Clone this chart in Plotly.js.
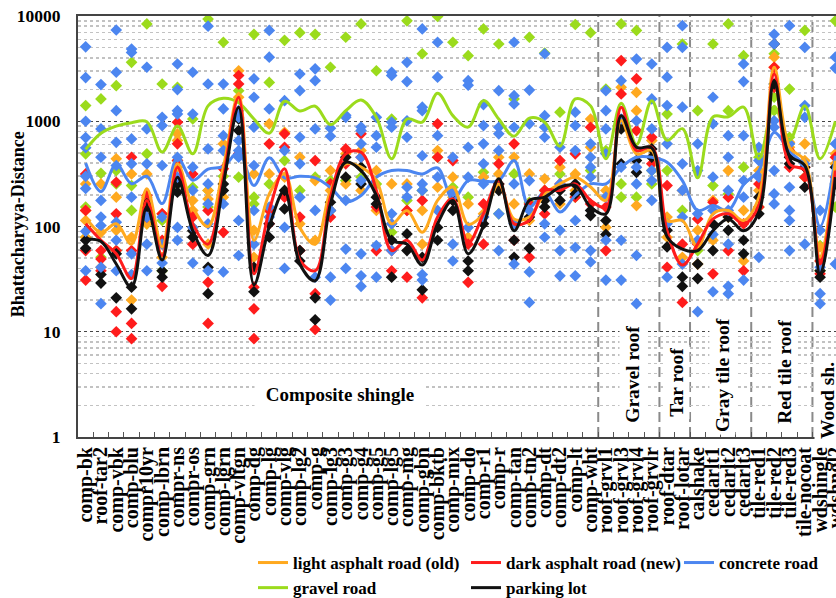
<!DOCTYPE html>
<html><head><meta charset="utf-8">
<script src="https://cdn.plot.ly/plotly-3.0.1.min.js"></script>
<style>html,body{margin:0;padding:0;background:#fff}#chart{width:836px;height:598px}</style>
</head><body><div id="chart"></div>
<script>
const categories = ["comp-bk","roof-tar2","comp-vbk","comp-blu","compr10yr","comp-lbrn","compr-ns","compr-os","comp-grn","comp-lgrn","comp-vltgn","comp-dg","comp-lg","comp-vlg","comp-lg2","comp-g","comp-lg3","comp-g3","comp-g4","comp-g5","comp-lg5","comp-mg","comp-gbn","comp-bktb","comp-mix","comp-do","comp-r1","comp-r","comp-tan","comp-tn2","comp-dt","comp-dt2","comp-lt","comp-wht","roof-grvl1","roof-grvl3","roof-grvl4","roof-grvlr","roof-dtar","roof-lotar","calshake","cedarlt1","cedarlt2","cedarlt3","tile-red1","tile-red2","tile-red3","tile-nocoat","wdshingle","wdshngl2"];
const groupNames = ["Composite shingle","Gravel roof","Tar roof","Gray tile roof","Red tile roof","Wood sh."];
const groupSizes = [34,4,2,4,4,2];
const seriesNames = ["light asphalt road (old)","dark asphalt road (new)","concrete road","gravel road","parking lot"];
const yTitle = "Bhattacharyya-Distance";

// smoothed mean curves
const lightAsphaltLine = [123,88,106,68,228,64,394,153,100,366,1820,74,204,316,98,68,220,394,366,273,106,142,88,177,237,105,132,254,118,123,204,254,294,237,177,1015,490,527,114,114,64,132,142,114,190,3250,566,423,51,423];
const darkAsphaltLine = [106,74,55,32,177,53,366,106,68,294,1690,35.5,142,353,48,38,190,490,508,220,59,74,48,123,183,70,132,273,106,114,220,220,254,177,153,1360,527,566,91,43,68,118,132,106,158,2810,394,340,44,340];
const concreteLine = [400,215,390,255,300,165,450,275,350,370,510,245,450,290,300,290,235,172,197,294,340,340,316,360,180,273,270,273,423,153,212,137,197,254,254,366,455,455,408,273,142,158,142,250,340,780,520,370,100,470];
const gravelLine = [540,770,900,970,990,510,900,490,1400,1650,1500,1050,770,1550,1250,1390,930,1260,1590,1090,440,1050,980,1850,1130,880,1570,1050,720,1070,980,580,1630,1400,440,1480,600,1570,660,850,290,1100,1100,1360,440,1380,660,1400,440,1000];
const parkingLine = [76,72,44,26.5,153,48,294,91,53,254,1360,28,100,220,44,30.5,164,408,340,197,74,68,43,106,177,55,102,284,91,177,190,237,245,153,132,1130,566,558,80,61,59,91,118,91,137,2430,472,380,35.5,294];

// individual observations (diamonds)
const lightAsphaltPts = [[254,142,114,79],[254,88,41],[440,190,92],[316,79,20],[316,190,106],[132,68,51],[760,655,366],[177,142,98],[220,183,68],[610,190],[3020,1690],[316,92,51],[945,316],[785,294],[455,106],[273,74],[340,220],[490,254],[527,220],[340,142],[254,106],[142,254],[142,68],[527,236],[294,190],[164,79],[294,132],[455,316],[455,164],[316,114],[284,190],[366,164],[316,220],[1050,566],[220,98],[2100,1010],[1880,1260,158],[655,455],[123,79],[220,51],[92,44],[177,74],[340,123],[142,47],[340,220],[4060,3260],[630,566],[610,423],[64,47],[490,394]];
const darkAsphaltPts = [[316,142,59,31],[59,49,38],[263,132,59,15.5,10],[455,59,12,8.6],[197,170,123],[132,74,27],[980,610,423],[316,123,68],[142,29.5,12],[353,88],[2720,2260,490],[26.5,16.5,8.6],[610,142,106],[760,566,190],[123,59],[423,23,10.5],[254,123],[546,394],[760,455],[153,59],[59,38],[142,33],[177,21],[945,455],[423,177],[68,29.5],[164,68],[394,254],[610,74],[164,51],[220,132],[423,254],[490,190],[877,164],[153,59],[3770,1820],[2530,815],[705,394],[245,41],[68,19],[118,68],[170,35.5],[190,59],[106,38],[254,153],[3250,2100],[527,366],[366,294],[47,35.5],[455,294]];
const concretePts = [[5100,2600,1000,700,560,300,230,90,38],[2230,845,455,177,123,102,41,18.5],[7360,2920,1260,630,380,110,74,38],[4850,4500,680,394,190,55,35],[3260,845,394,123,68,38],[1090,910,380,123,68,45],[3500,2000,1260,1170,455,294,98,74],[2920,1170,366,220,98,45],[8000,2260,546,254,164,106,38],[2260,1310,730,527,164,37],[1260,1090,655,527,455,114,53],[2530,1690,877,380,142,68],[7300,4060,1310,153,123],[1570,527,98,40],[2810,1950,705,394,190],[3150,2430,845,142,33],[860,720,142,33,20],[1140,1090,177,61,40],[880,815,610,455,273,55,34,27],[1090,730,566,66,33],[2920,2720,980,877,132,106,59],[3630,2380,1010,705,236,190],[7540,1360,1260,470,254,220,35,31],[5630,2620,730,294,142],[455,212,68,47],[2430,2200,566,294,98],[1440,910,610,394,254,123],[1950,877,760,527,132,59],[5630,1750,1460,877,254,106,44],[1980,945,273,142,37,19],[4380,1130,877,705,106,79],[566,254,92,59,34],[1220,910,527,114,63,34],[610,455,366,294,59,46],[1950,1260,845,490,190,74,31],[2430,1050,366,74,31],[3900,1010,366,254,53,18.5],[3500,1630,845,340,273,177],[5030,2620,1410,610,106,33],[8100,5030,1360,394,220,123,44],[610,340,132,74,15.5],[1690,945,294,142,84,24],[730,455,220,142,68,27,23],[3500,2380,730,273,190,31],[566,423,294,51],[6690,5420,1010,877,340,204,164],[8100,610,236,142,114,59],[5030,1410,1090,394,68],[142,92,41,23,18.5],[4060,3200,610,44]];
const gravelPts = [[1410,490,153,79],[1630,320,51],[2180,340,254,59],[3630,245,142],[8400,490,106],[2260,114,38],[2100,423,254],[1050,236],[9350,220,153],[5630,300],[1950,294],[6690,190,164],[2340,254],[5870,423],[6950,220],[6690,294],[3260,273],[6280,273],[8400,294],[3020,254],[1050,88],[9000,177],[4380,220],[9900,455],[5630,236],[4200,190],[7540,327],[5420,132],[1630,316],[6280,170],[4450,220],[1220,316],[8300,190],[6950,340],[2020,527],[8400,254,190],[7300,190],[340,254],[1170,340],[5420,142],[1260,59],[5420,245],[8400,1260,204],[4200,366],[455,153],[4380,1690,1260],[2020,705],[7300,294],[66,38],[9000,153]];
const parkingPts = [[74,62],[35,29],[55,21],[26.5,16.5],[153,164],[38,33],[254,212],[91,79],[41,23],[254,220],[1050,815],[41,24],[106,79],[220,147],[59,47],[21,13],[142,170],[455,294],[366,254],[190,164],[74,33],[85,59],[51,25],[98,74],[177,142],[47,38],[106,123],[254,220],[74,51],[123,62],[177,153],[220,177],[254,204],[142,127],[114,84],[845,394],[423,327],[546,455],[92,64],[33,27],[44,32],[59,106],[123,92],[74,55],[190,132],[5420,2260],[455,394],[366,236],[38,33],[366,254]];

const colors = {light:'#FFA91F', dark:'#FF1C1C', concrete:'#4C86F0', gravel:'#9BDB1C', parking:'#111111'};
const serif = 'Liberation Serif, Times New Roman, serif';

function pts(arr, color) {
  const x = [], y = [];
  arr.forEach((vals, i) => vals.forEach(v => { x.push(categories[i]); y.push(v); }));
  return {x, y, type:'scatter', mode:'markers', showlegend:false, hoverinfo:'skip',
    marker:{symbol:'diamond', size:9, color:color, line:{width:0}}};
}
function line(vals, color, name, rank) {
  return {x:categories, y:vals, type:'scatter', mode:'lines', name:name, legendrank:rank,
    line:{color:color, width:3, shape:'spline', smoothing:1}};
}

const traces = [
  pts(gravelPts, colors.gravel),
  pts(lightAsphaltPts, colors.light),
  pts(darkAsphaltPts, colors.dark),
  pts(parkingPts, colors.parking),
  pts(concretePts, colors.concrete),
  line(gravelLine, colors.gravel, seriesNames[3], 4),
  line(concreteLine, colors.concrete, seriesNames[2], 3),
  line(lightAsphaltLine, colors.light, seriesNames[0], 1),
  line(darkAsphaltLine, colors.dark, seriesNames[1], 2),
  line(parkingLine, colors.parking, seriesNames[4], 5)
];

// group boundaries from group sizes
const shapes = [];
let acc = 0;
groupSizes.slice(0, -1).forEach(n => {
  acc += n;
  shapes.push({type:'line', xref:'x', yref:'paper', x0:acc-0.5, x1:acc-0.5, y0:0, y1:1, layer:'below',
    line:{color:'#8a8a8a', width:2, dash:'10px,5px'}});
});

const minorVals = [];
[1,10,100,1000].forEach(d => { for (let k = 2; k <= 9; k++) minorVals.push(d*k); });

const labelFont = {family:serif, size:19.5, color:'#000', weight:700};
const base = {xref:'paper', yref:'paper', xanchor:'center', yanchor:'middle', showarrow:false};
const annotations = [
  Object.assign({text:groupNames[0], x:0.3456, y:0.102, bgcolor:'#fff', borderpad:5, width:160, font:{family:serif, size:19, color:'#000', weight:700}}, base),
  Object.assign({text:groupNames[1], x:0.732, y:0.15, textangle:-90, bgcolor:'#fff', borderpad:2, font:labelFont}, base),
  Object.assign({text:groupNames[2], x:0.79, y:0.131, textangle:-90, bgcolor:'#fff', borderpad:2, font:labelFont}, base),
  Object.assign({text:groupNames[3], x:0.8496, y:0.147, textangle:-90, bgcolor:'#fff', borderpad:2, font:labelFont}, base),
  Object.assign({text:groupNames[4], x:0.931, y:0.154, textangle:-90, bgcolor:'#fff', borderpad:2, font:labelFont}, base),
  Object.assign({text:groupNames[5], x:0.9894, y:0.088, textangle:-90, bgcolor:'#fff', borderpad:2, font:labelFont}, base),
  Object.assign({text:yTitle, x:-0.0792, y:0.505, textangle:-90, font:{family:serif, size:18, color:'#000', weight:700}}, base)
];

const layout = {
  width:836, height:598,
  margin:{l:78, r:0, t:16, b:161, autoexpand:false},
  paper_bgcolor:'#fff', plot_bgcolor:'#fff',
  showlegend:true,
  legend:{orientation:'h', x:1.0739, y:-0.2565, xanchor:'right', yanchor:'top',
    font:{family:serif, size:17, color:'#000', weight:700}, entrywidth:168, entrywidthmode:'pixels',
    bgcolor:'rgba(0,0,0,0)', tracegroupgap:0},
  xaxis:{type:'category', categoryorder:'array', categoryarray:categories, automargin:false,
    range:[-0.5, 49.04], tickmode:'array', tickvals:categories, tickson:'boundaries',
    ticks:'inside', ticklen:5, tickcolor:'#555', tickwidth:1, tickangle:-90,
    tickfont:{family:serif, size:20, color:'#000', weight:700},
    showgrid:false, showline:true, mirror:true, linecolor:'#444', linewidth:2, zeroline:false},
  yaxis:{type:'log', range:[0,4], tickmode:'array', tickvals:[1,10,100,1000,10000], automargin:false,
    ticktext:['1','10','100','1000','10000'], ticks:'', ticklabelstandoff:12,
    tickfont:{family:serif, size:17.5, color:'#000', weight:700},
    showgrid:true, gridcolor:'#444', griddash:'dot', gridwidth:1.3,
    minor:{tickmode:'array', tickvals:minorVals, showgrid:true, gridcolor:'#c2c2c2', gridwidth:1.6, ticks:''},
    showline:true, linecolor:'#444', linewidth:2, mirror:false, zeroline:false},
  shapes:shapes,
  annotations:annotations
};

Plotly.newPlot('chart', traces, layout, {displayModeBar:false, staticPlot:true});
</script>
</body></html>
